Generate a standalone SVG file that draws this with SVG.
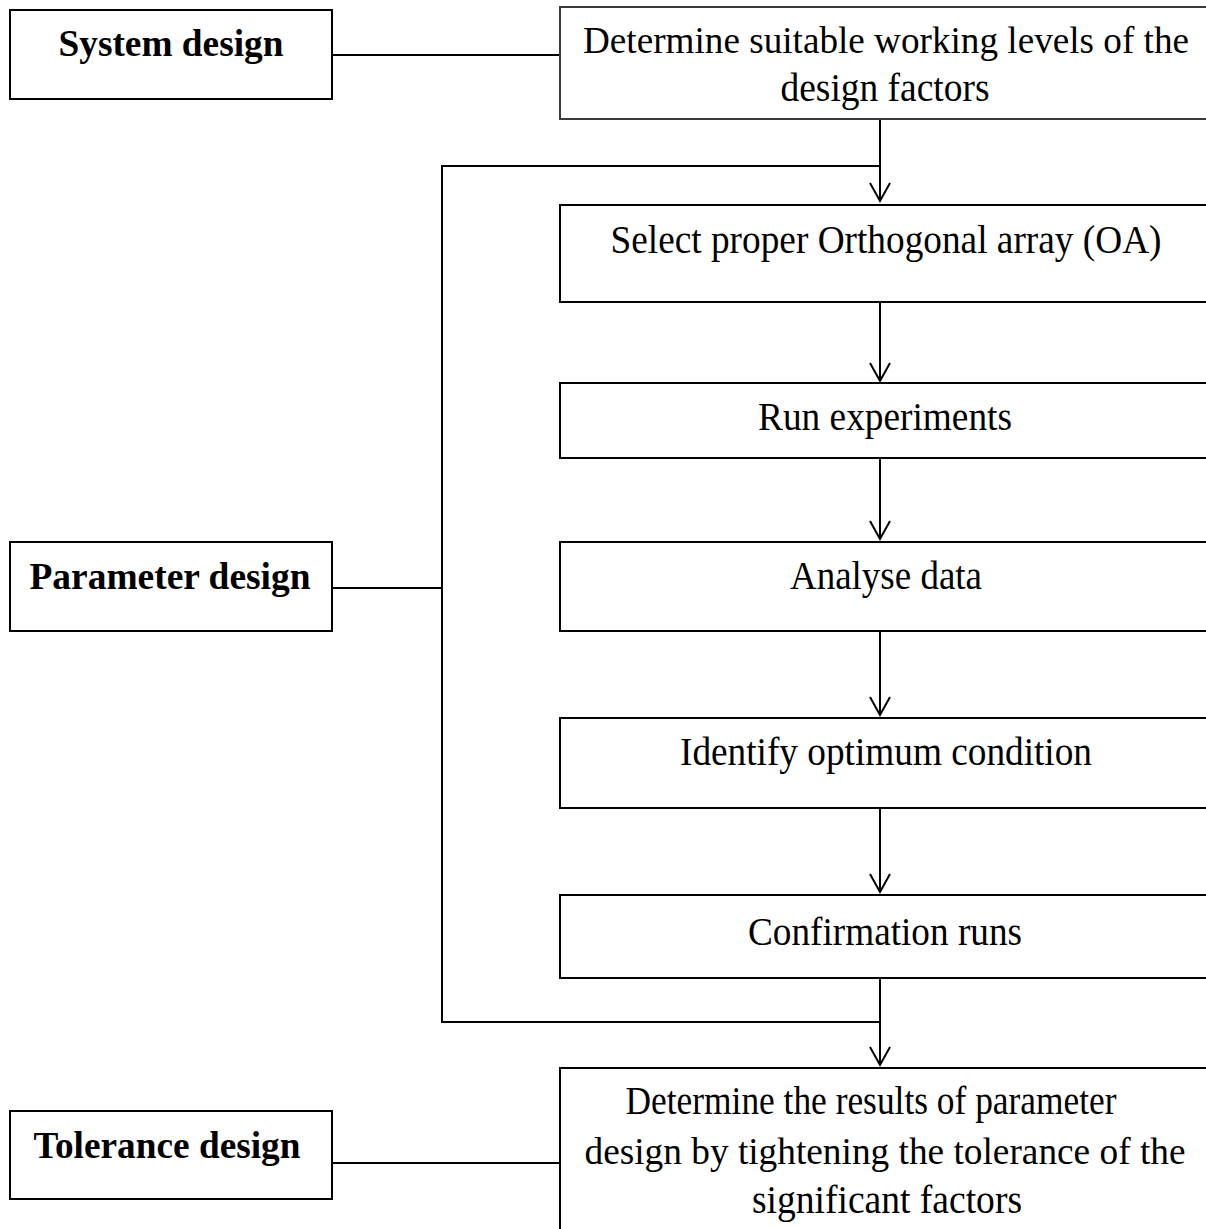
<svg xmlns="http://www.w3.org/2000/svg" width="1206" height="1229" viewBox="0 0 1206 1229">
  <style>
    .box { fill: #ffffff; stroke: #000000; stroke-width: 2; }
    .box2 { fill: #ffffff; stroke: #3a3a3a; stroke-width: 2; }
    .lbl { font-family: "Liberation Serif", "Times New Roman", serif; font-size: 39px; fill: #000000; text-anchor: middle; }
    .wide { font-size: 37.5px; }
    .bold { font-weight: bold; font-size: 38px; }
    .con { fill: none; stroke: #000000; stroke-width: 2; }
  </style>
  <defs>
    <marker id="arr" markerUnits="userSpaceOnUse" markerWidth="24" markerHeight="26" viewBox="-21 -13 24 26" refX="0" refY="0" orient="auto" overflow="visible">
      <path d="M-18,-10 L0,0 L-18,10" fill="none" stroke="#000000" stroke-width="2"/>
    </marker>
  </defs>
  <rect width="1206" height="1229" fill="#ffffff"/>

  <g id="connectors">
    <line class="con" x1="332" y1="55" x2="560" y2="55"/>
    <line class="con" x1="880" y1="119" x2="880" y2="201" marker-end="url(#arr)"/>
    <polyline class="con" points="880,166 442,166 442,1022 880,1022"/>
    <line class="con" x1="332" y1="588" x2="442" y2="588"/>
    <line class="con" x1="880" y1="302" x2="880" y2="381" marker-end="url(#arr)"/>
    <line class="con" x1="880" y1="458" x2="880" y2="539" marker-end="url(#arr)"/>
    <line class="con" x1="880" y1="631" x2="880" y2="715" marker-end="url(#arr)"/>
    <line class="con" x1="880" y1="808" x2="880" y2="892" marker-end="url(#arr)"/>
    <line class="con" x1="880" y1="978" x2="880" y2="1065" marker-end="url(#arr)"/>
    <line class="con" x1="332" y1="1163" x2="560" y2="1163"/>
  </g>

  <g id="system-design">
    <rect class="box" x="10" y="10" width="322" height="89"/>
    <text class="lbl bold" x="171" y="56" textLength="225" lengthAdjust="spacingAndGlyphs">System design</text>
  </g>
  <g id="parameter-design">
    <rect class="box" x="10" y="542" width="322" height="89"/>
    <text class="lbl bold" x="170" y="589" textLength="281" lengthAdjust="spacingAndGlyphs">Parameter design</text>
  </g>
  <g id="tolerance-design">
    <rect class="box" x="10" y="1111" width="322" height="88"/>
    <text class="lbl bold" x="167" y="1158" textLength="267" lengthAdjust="spacingAndGlyphs">Tolerance design</text>
  </g>

  <g id="determine-levels">
    <path class="box2" d="M1206,7 H560 V119 H1206"/>
    <text class="lbl wide" x="886" y="53" textLength="606" lengthAdjust="spacingAndGlyphs">Determine suitable working levels of the</text>
    <text class="lbl" x="885" y="101" textLength="209" lengthAdjust="spacingAndGlyphs">design factors</text>
  </g>
  <g id="select-oa">
    <path class="box" d="M1206,205 H560 V302 H1206"/>
    <text class="lbl" x="886" y="253" textLength="551" lengthAdjust="spacingAndGlyphs">Select proper Orthogonal array (OA)</text>
  </g>
  <g id="run-experiments">
    <path class="box" d="M1206,383 H560 V458 H1206"/>
    <text class="lbl" x="885" y="430" textLength="254" lengthAdjust="spacingAndGlyphs">Run experiments</text>
  </g>
  <g id="analyse-data">
    <path class="box" d="M1206,542 H560 V631 H1206"/>
    <text class="lbl" x="886" y="589" textLength="192" lengthAdjust="spacingAndGlyphs">Analyse data</text>
  </g>
  <g id="identify-optimum">
    <path class="box" d="M1206,718 H560 V808 H1206"/>
    <text class="lbl" x="886" y="765" textLength="412" lengthAdjust="spacingAndGlyphs">Identify optimum condition</text>
  </g>
  <g id="confirmation-runs">
    <path class="box" d="M1206,895 H560 V978 H1206"/>
    <text class="lbl" x="885" y="945" textLength="274" lengthAdjust="spacingAndGlyphs">Confirmation runs</text>
  </g>
  <g id="tolerance-results">
    <path class="box" d="M1206,1068 H560 V1229"/>
    <text class="lbl" x="871" y="1114" textLength="491" lengthAdjust="spacingAndGlyphs">Determine the results of parameter</text>
    <text class="lbl wide" x="885" y="1164" textLength="601" lengthAdjust="spacingAndGlyphs">design by tightening the tolerance of the</text>
    <text class="lbl" x="887" y="1213" textLength="270" lengthAdjust="spacingAndGlyphs">significant factors</text>
  </g>
</svg>
